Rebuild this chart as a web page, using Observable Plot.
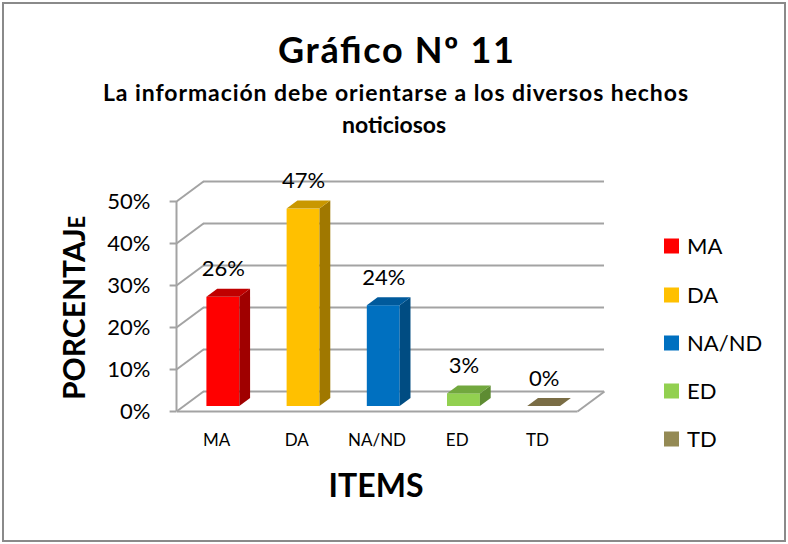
<!DOCTYPE html>
<html>
<head>
<meta charset="utf-8">
<script src="https://cdn.jsdelivr.net/npm/d3@7"></script>
<script src="https://cdn.jsdelivr.net/npm/@observablehq/plot@0.6"></script>
<style>
  html, body { margin: 0; padding: 0; background: #fff; }
  #chart { position: relative; width: 788px; height: 544px; }
</style>
</head>
<body>
<div id="chart"></div>
<script>
// ---- data ----
const categories = ["MA", "DA", "NA/ND", "ED", "TD"];
const values = [26, 47, 24, 3, 0];
const frontColors = ["#FF0000", "#FFC000", "#0070C0", "#92D050", "#948A54"];
const topColors   = ["#C00000", "#C99700", "#005A9C", "#72A83E", "#7A6D45"];
const sideColors  = ["#A00000", "#A07800", "#004C82", "#5E8C32", "#5F5535"];
const yTicks = [0, 10, 20, 30, 40, 50];
const titleText = "Gráfico Nº 11";
const subtitleLines = ["La información debe orientarse a los diversos hechos", "noticiosos"];
const yLabel = "PORCENTAJ";
const yLabelTail = "E";
const xLabel = "ITEMS";

// ---- 3D geometry (in data units) ----
const DX = 27 / 80.2;   // depth offset along x (slot units)
const DY = 20 / 4.2;    // depth offset along y (percent units)
const t0 = 0.25, t1 = 0.65;
const W = 0.41;         // bar face width (slot units)

const bars = categories.map((c, i) => {
  const v = values[i];
  const xl = i + 0.5 - W / 2 + t0 * DX;
  return {c, i, v, xl, xr: xl + W, front: frontColors[i], top: topColors[i], side: sideColors[i]};
});
const sidePts = bars.flatMap(b => [
  {i: b.i, fill: b.side, x: b.xr, y1: t0 * DY, y2: b.v + t0 * DY},
  {i: b.i, fill: b.side, x: b.xr + (t1 - t0) * DX, y1: t1 * DY, y2: b.v + t1 * DY}
]);
const topPts = bars.flatMap(b => [
  {i: b.i, fill: b.top, y: b.v + t0 * DY, x1: b.xl, x2: b.xr},
  {i: b.i, fill: b.top, y: b.v + t1 * DY, x1: b.xl + (t1 - t0) * DX, x2: b.xr + (t1 - t0) * DX}
]);

const grid = "#A3A3A3";
const font = "Lato, 'Open Sans', sans-serif";

const plot = Plot.plot({
  width: 788,
  height: 544,
  marginLeft: 176,
  marginRight: 211,
  marginTop: 201,
  marginBottom: 133,
  style: {fontFamily: font, background: "transparent", overflow: "visible"},
  x: {domain: [0, 5], axis: null},
  y: {domain: [0, 50], axis: null},
  color: {type: "identity"},
  marks: [
    // back wall gridlines
    Plot.ruleY(yTicks, {y: d => d + DY, x1: DX, x2: 5 + DX, stroke: grid, strokeWidth: 2}),
    // side wall lines
    Plot.link(yTicks, {x1: 0, y1: d => d, x2: DX, y2: d => d + DY, stroke: grid, strokeWidth: 2}),
    // floor edges
    Plot.link([0], {x1: 0, y1: 0, x2: 5, y2: 0, stroke: grid, strokeWidth: 2}),
    Plot.link([0], {x1: 5, y1: 0, x2: 5 + DX, y2: DY, stroke: grid, strokeWidth: 2}),
    // vertical axis + ticks
    Plot.ruleX([0], {y1: 0, y2: 50, stroke: grid, strokeWidth: 2}),
    Plot.ruleY(yTicks, {x1: -0.08, x2: 0, stroke: grid, strokeWidth: 2}),
    Plot.axisY(yTicks, {tickSize: 0, tickPadding: 26, fontSize: 22, tickFormat: d => d + "%", fill: "#000"}),
    // bars
    Plot.rect(bars, {x1: "xl", x2: "xr", y1: t0 * DY, y2: d => d.v + t0 * DY, fill: "front"}),
    Plot.areaY(sidePts, {x: "x", y1: "y1", y2: "y2", z: "i", fill: "fill"}),
    Plot.areaX(topPts, {y: "y", x1: "x1", x2: "x2", z: "i", fill: "fill"}),
    // value labels
    Plot.text(bars, {x: d => (d.xl + d.xr) / 2, y: d => d.v + t0 * DY, dy: -28, text: d => d.v + "%", fontSize: 22, fill: "#000", lineAnchor: "middle"}),
    // category labels
    Plot.text(categories, {x: (d, i) => i + 0.5, y: 0, dy: 29, text: d => d, fontSize: 17, fill: "#000", lineAnchor: "middle"})
  ]
});

const svg = d3.select(plot);
// border
svg.insert("rect", ":first-child")
  .attr("x", 3).attr("y", 3).attr("width", 782).attr("height", 538)
  .attr("fill", "#fff").attr("stroke", "#8a8a8a").attr("stroke-width", 2);

const t = svg.append("g").attr("font-family", font).attr("fill", "#000").attr("text-anchor", "middle");
t.append("text").attr("x", 396).attr("y", 63).attr("font-size", 36).attr("font-weight", "bold")
  .attr("textLength", 236).attr("lengthAdjust", "spacing").text(titleText);
t.append("text").attr("x", 395.5).attr("y", 101).attr("font-size", 23).attr("font-weight", "bold")
  .attr("textLength", 585).attr("lengthAdjust", "spacing").text(subtitleLines[0]);
t.append("text").attr("x", 394).attr("y", 133).attr("font-size", 23).attr("font-weight", "bold")
  .attr("textLength", 104).attr("lengthAdjust", "spacing").text(subtitleLines[1]);
t.append("text").attr("x", 376).attr("y", 497).attr("font-size", 32).attr("font-weight", "bold").text(xLabel);
const yl = t.append("text").attr("transform", "translate(85,400) rotate(-90)").attr("text-anchor", "start")
  .attr("font-size", 30).attr("font-weight", "bold");
yl.append("tspan").text(yLabel);
yl.append("tspan").attr("font-size", 22).text(yLabelTail);

// legend
const lg = svg.append("g").attr("font-family", font).attr("text-anchor", "start");
const rowY = [246, 295, 343, 391, 439];
categories.forEach((c, i) => {
  lg.append("rect").attr("x", 664).attr("y", rowY[i] - 7.5).attr("width", 15).attr("height", 15).attr("fill", frontColors[i]);
  lg.append("text").attr("x", 687).attr("y", rowY[i] + 8).attr("font-size", 22).attr("fill", "#000").text(c);
});

document.getElementById("chart").appendChild(plot);
</script>
</body>
</html>
